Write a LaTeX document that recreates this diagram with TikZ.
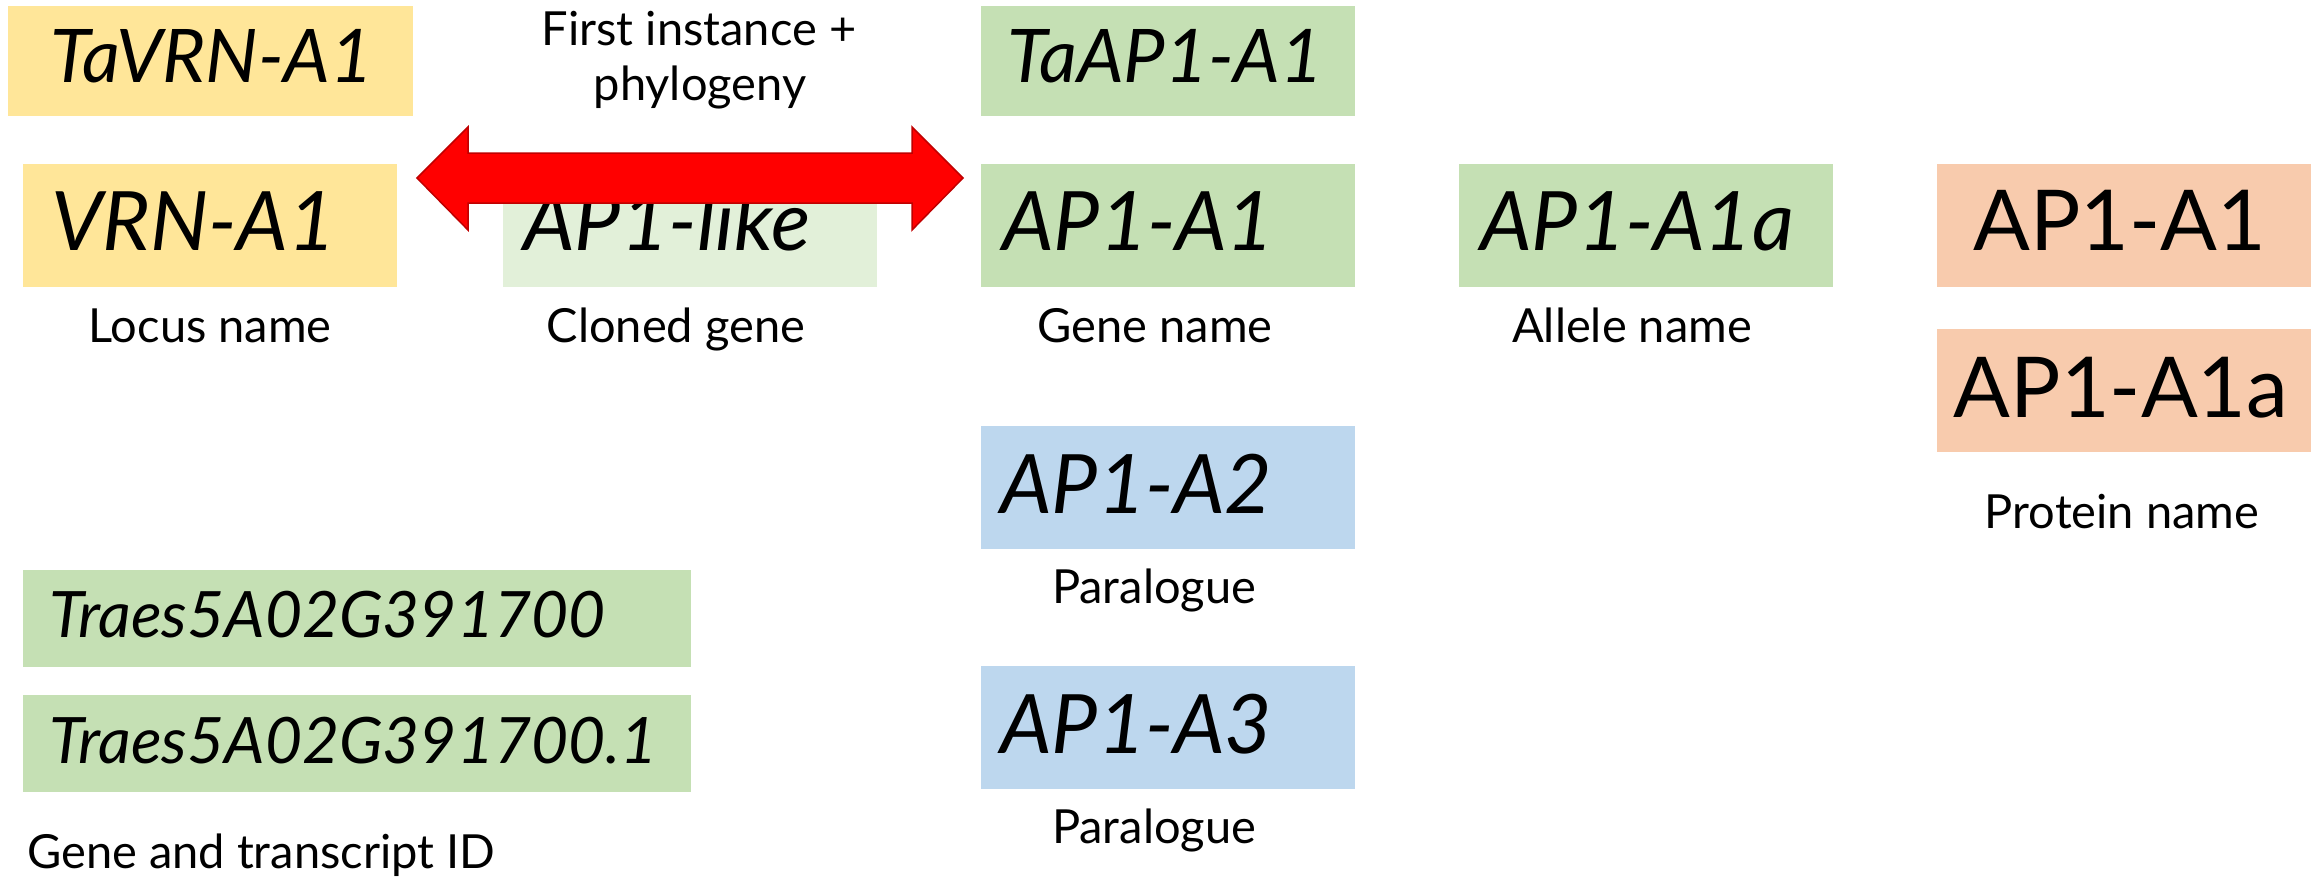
\documentclass[tikz,border=0pt]{standalone}
\usepackage{fontspec}
\setmainfont{Lato}
\definecolor{locusyellow}{HTML}{FFE699}
\definecolor{genegreen}{HTML}{C5E0B4}
\definecolor{palegreen}{HTML}{E2F0D9}
\definecolor{parablue}{HTML}{BDD7EE}
\definecolor{protpeach}{HTML}{F8CBAD}
\definecolor{arrowred}{HTML}{FF0000}
\definecolor{arrowedge}{HTML}{C00000}
\begin{document}
\begin{tikzpicture}[x=1pt,y=-1pt,
  namebox/.style={inner sep=0pt, anchor=north west, draw=none},
  wide/.style={namebox, minimum width=374pt, minimum height=123pt},
  bigname/.style={inner sep=0pt, anchor=base west, font=\fontsize{82}{90}\selectfont\itshape},
  taname/.style={inner sep=0pt, anchor=base west, font=\fontsize{74}{80}\selectfont\itshape},
  idname/.style={inner sep=0pt, anchor=base west, font=\fontsize{64}{70}\selectfont\itshape},
  protname/.style={inner sep=0pt, anchor=base, font=\fontsize{84}{92}\selectfont},
  caption/.style={inner sep=0pt, anchor=base, font=\fontsize{47}{55}\selectfont},
  blockarrow/.style={fill=arrowred, draw=arrowedge, line width=1.5pt, line join=miter}]
\useasboundingbox (0,0) rectangle (2320,879);

% coloured name boxes
\node[namebox, fill=locusyellow, minimum width=405pt, minimum height=110pt] (tavrnbox) at (8,6) {};
\node[wide, fill=locusyellow] (vrnbox) at (23,164) {};
\node[wide, fill=palegreen] (likebox) at (503,164) {};
\node[namebox, fill=genegreen, minimum width=374pt, minimum height=110pt] (taapbox) at (981,6) {};
\node[wide, fill=genegreen] (genebox) at (981,164) {};
\node[wide, fill=genegreen] (allelebox) at (1459,164) {};
\node[wide, fill=protpeach] (protbox) at (1937,164) {};
\node[wide, fill=protpeach] (protabox) at (1937,329) {};
\node[wide, fill=parablue] (paratwobox) at (981,426) {};
\node[wide, fill=parablue] (parathreebox) at (981,666) {};
\node[namebox, fill=genegreen, minimum width=668pt, minimum height=97pt] (idbox) at (23,570) {};
\node[namebox, fill=genegreen, minimum width=668pt, minimum height=97pt] (trbox) at (23,695) {};

% names inside the boxes
\node[taname] (tavrn) at (50,82) {TaVRN-A1};
\node[taname] (taap) at (1007,82) {TaAP1-A1};
\node[bigname] (vrn) at (51,250) {VRN-A1};
\node[bigname] (like) at (523,250) {AP1-like};
\node[bigname] (gene) at (1002,250) {AP1-A1};
\node[bigname] (allele) at (1480,250) {AP1-A1a};
\node[protname] (prot) at (2120,250) {AP1-A1};
\node[protname] (prota) at (2121,417) {AP1-A1a};
\node[bigname] (paratwo) at (1000,513) {AP1-A2};
\node[bigname] (parathree) at (1000,753) {AP1-A3};
\node[idname] (geneid) at (49,637) {Traes5A02G391700};
\node[idname] (trid) at (49,763) {Traes5A02G391700.1};

% captions
\node[caption] (firstone) at (699,45) {First instance +};
\node[caption] (firsttwo) at (700,100) {phylogeny};
\node[caption] (locuscap) at (210,342) {Locus name};
\node[caption] (clonedcap) at (676,342) {Cloned gene};
\node[caption] (genecap) at (1155,342) {Gene name};
\node[caption] (allelecap) at (1632,342) {Allele name};
\node[caption] (paratwocap) at (1154,603) {Paralogue};
\node[caption] (parathreecap) at (1154,843) {Paralogue};
\node[caption] (protcap) at (2122,528) {Protein name};
\node[caption, anchor=base west] (idcap) at (27,868) {Gene and transcript ID};

% double-headed block arrow between locus and gene
\coordinate (ltip) at (417,178);
\coordinate (rtip) at (963,178);
\draw[blockarrow] (ltip) -- (468,127) -- (468,153) -- (912,153) -- (912,127)
  -- (rtip) -- (912,230) -- (912,203) -- (468,203) -- (468,230) -- cycle;
\end{tikzpicture}
\end{document}
